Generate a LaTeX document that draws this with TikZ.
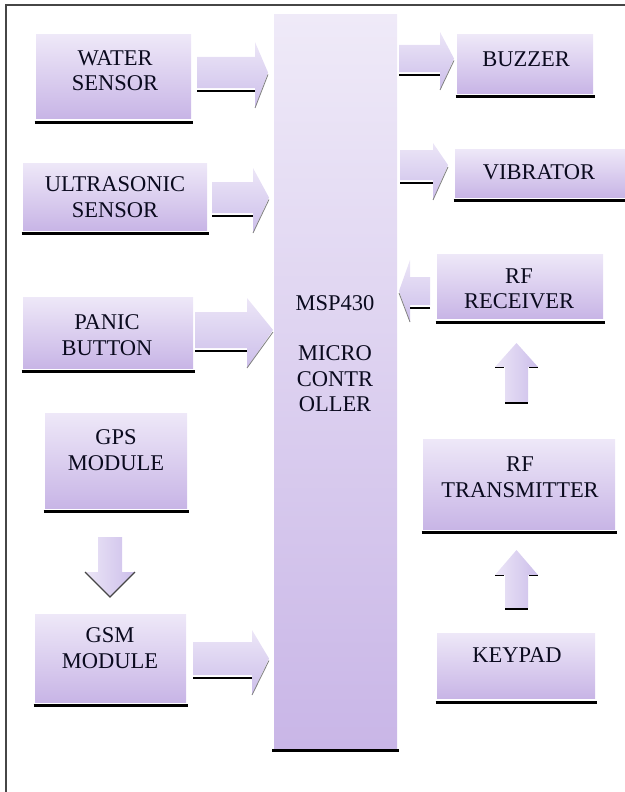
\documentclass[tikz,border=0pt]{standalone}
\usepackage{fontspec}
\setmainfont{Liberation Serif}
\usetikzlibrary{calc}
\definecolor{boxtop}{RGB}{238,232,248}
\definecolor{boxbot}{RGB}{200,181,230}
\definecolor{mcutop}{RGB}{239,234,248}
\definecolor{mcubot}{RGB}{201,182,231}
\definecolor{arrtop}{RGB}{236,230,247}
\definecolor{arrbot}{RGB}{204,190,234}
\definecolor{txtcol}{RGB}{10,10,30}
\definecolor{framecol}{RGB}{70,70,70}
\newcommand{\mkbox}[5]{\node[blk, minimum width={(#4-#2)*1pt}, minimum height={(#5-#3)*1pt}] (#1) at ({(#2+#4)/2},{(#3+#5)/2}) {};}
\newcommand{\mkuline}[2]{\draw[uline] ($(#1.south west)+(-1.5,#2)$) -- ($(#1.south east)+(1.5,#2)$);}
% horizontal block arrow: x0 body end, x1 head base, x2 tip, ytop, ybot, htop, hbot
\newcommand{\HArrow}[7]{%
  \path[top color=arrtop,bottom color=arrbot] (#1,#4) -- (#2,#4) -- (#2,#6) -- (#3,{(#4+#5)/2}) -- (#2,#7) -- (#2,#5) -- (#1,#5) -- cycle;
  \draw[shaft] (#1,{#5+2.5}) -- (#2,{#5+2.5});
  \draw[edgeln] (#3,{(#4+#5)/2+2}) -- (#2,#7);}
% up block arrow: y0 body bottom, y1 head base, y2 tip, xl, xr, hl, hr
\newcommand{\UArrow}[7]{%
  \path[left color=arrtop,right color=arrbot] (#4,#1) -- (#4,#2) -- (#6,#2) -- ({(#4+#5)/2},#3) -- (#7,#2) -- (#5,#2) -- (#5,#1) -- cycle;
  \draw[dashln] (#6,{#2+0.5}) -- ({#4-1},{#2+0.5});
  \draw[dashln] ({#5+1},{#2+0.5}) -- (#7,{#2+0.5});
  \draw[dashln] (#4,{#1+1}) -- (#5,{#1+1});}
\begin{document}
\begin{tikzpicture}[x=1pt,y=-1pt,
  blk/.style={rectangle, draw=none, top color=boxtop, bottom color=boxbot, inner sep=0pt, outer sep=0pt},
  lbl/.style={inner sep=0pt, align=center, font=\fontsize{22.5}{25.5}\selectfont, text=txtcol},
  uline/.style={line width=3pt, black},
  shaft/.style={line width=2pt, black},
  edgeln/.style={line width=0.8pt, gray},
  dashln/.style={line width=1.6pt, black}]
\useasboundingbox (0,0) rectangle (624,792);
% frame
\draw[framecol, line width=1.6pt] (6,800) -- (6,5) -- (630,5);
% microcontroller
\node[rectangle, draw=none, top color=mcutop, bottom color=mcubot, inner sep=0pt,
  minimum width=123pt, minimum height=733pt] (mcu) at (335.5,381.5) {};
\mkuline{mcu}{2.5}
\node[lbl] (mcuT) at (335,353.5) {MSP430\\[25pt]MICRO\\CONTR\\OLLER};
% boxes
\mkbox{water}{36}{35}{191}{118}
\mkbox{ultra}{23}{163}{207}{230}
\mkbox{panic}{23}{297}{193}{368}
\mkbox{gps}{45}{413}{187}{508}
\mkbox{gsm}{35}{614}{186}{702}
\mkbox{buzzer}{457}{35}{593}{93}
\mkbox{vibr}{455}{149}{628}{197}
\mkbox{rfrx}{437}{254}{603}{318}
\mkbox{rftx}{423}{439}{615}{529}
\mkbox{keypad}{437}{633}{595}{698}
\mkuline{water}{4}
\mkuline{ultra}{3}
\mkuline{panic}{3}
\mkuline{gps}{3}
\mkuline{gsm}{3}
\mkuline{buzzer}{3}
\mkuline{vibr}{3}
\mkuline{rfrx}{4}
\mkuline{rftx}{3}
\mkuline{keypad}{4}
% labels
\node[lbl] (waterT) at (115,70.5) {WATER\\SENSOR};
\node[lbl] (ultraT) at (115,197) {ULTRASONIC\\SENSOR};
\node[lbl] (panicT) at (107,335) {PANIC\\BUTTON};
\node[lbl] (gpsT) at (116,450) {GPS\\MODULE};
\node[lbl] (gsmT) at (110,648) {GSM\\MODULE};
\node[lbl] (buzzerT) at (526,59.5) {BUZZER};
\node[lbl] (vibrT) at (539,172.5) {VIBRATOR};
\node[lbl] (rfrxT) at (519,289) {RF\\RECEIVER};
\node[lbl] (rftxT) at (520,477) {RF\\TRANSMITTER};
\node[lbl] (keypadT) at (517,655) {KEYPAD};
% block arrows
\HArrow{197}{255}{268}{57}{88}{42}{108}
\HArrow{212}{253}{269}{182}{213}{168}{233}
\HArrow{195}{247}{273}{312}{348}{298}{368}
\HArrow{193}{252}{269}{642}{675}{630}{695}
\HArrow{399}{440}{454}{45}{72}{32}{90}
\HArrow{400}{433}{448}{150}{180}{143}{200}
\HArrow{430}{410}{399}{277}{305}{260}{322}
\UArrow{402}{367}{343}{505}{528}{495}{538}
\UArrow{608}{575}{550}{505}{528}{495}{538}
% down arrow GPS -> GSM
\path[left color=arrtop,right color=arrbot] (98,537) -- (122,537) -- (122,572) -- (135,572) -- (110,597) -- (85,572) -- (98,572) -- cycle;
\draw[line width=1.3pt, framecol] (85,572) -- (110,597) -- (135,572);
\end{tikzpicture}
\end{document}
